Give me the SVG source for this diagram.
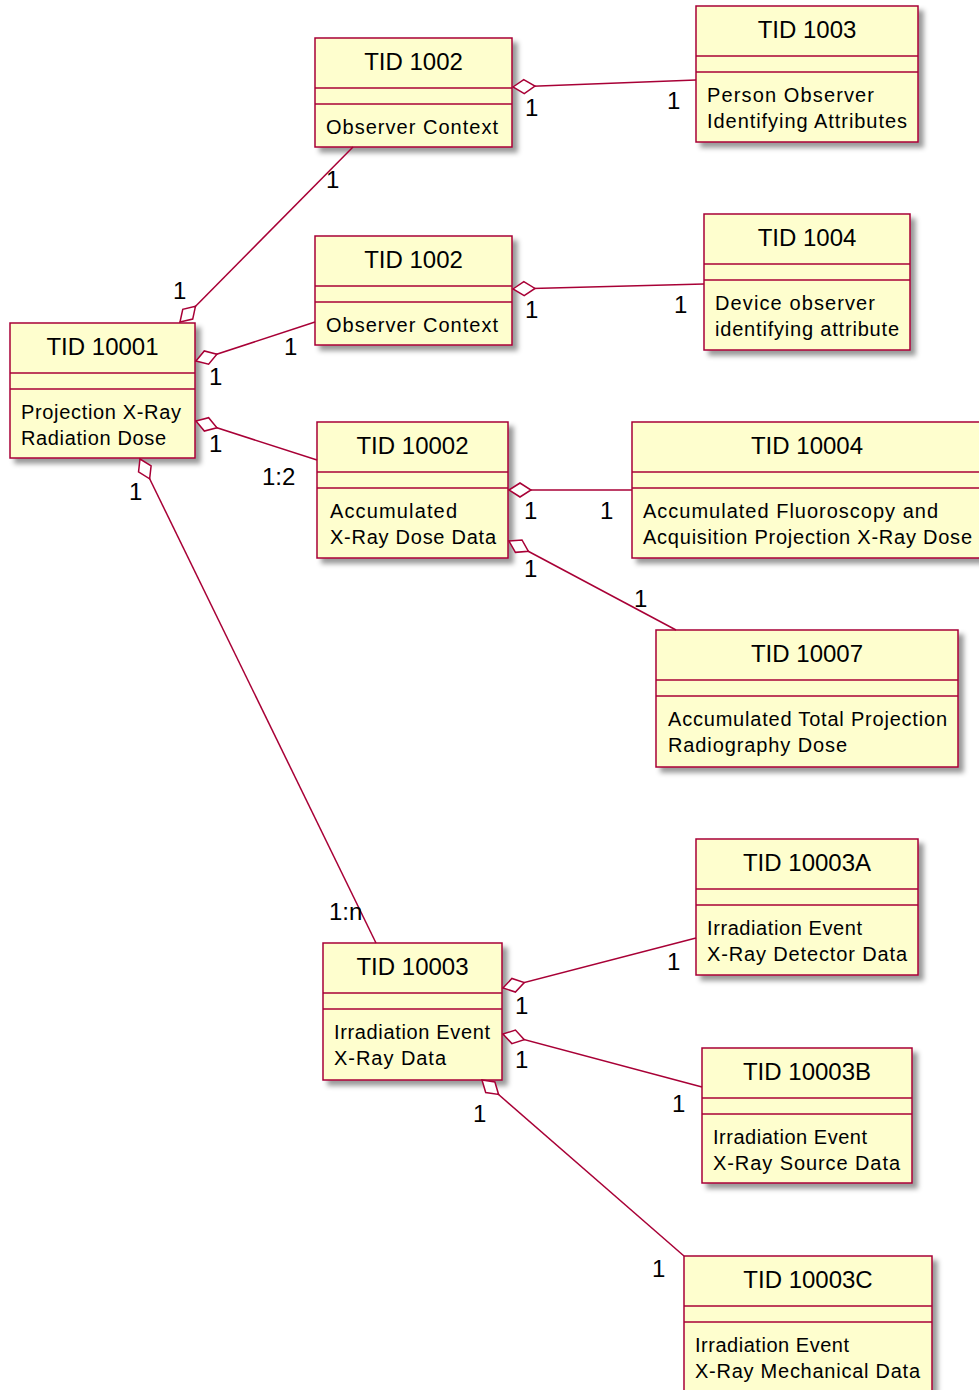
<svg xmlns="http://www.w3.org/2000/svg" width="979" height="1390" viewBox="0 0 979 1390">
<style>
.box{fill:#FEFECE;stroke:#A80036;stroke-width:1.5;filter:url(#sh)}
.div{stroke:#A80036;stroke-width:1.5}
.hd{font-family:"Liberation Sans",Arial,sans-serif;font-size:24px;fill:#000;text-anchor:middle}
.bd{font-family:"Liberation Sans",Arial,sans-serif;font-size:20px;fill:#000}
.lb{font-family:"Liberation Sans",Arial,sans-serif;font-size:24px;fill:#000}
.cn{stroke:#A80036;stroke-width:1.5;fill:none;marker-start:url(#dia)}
</style>
<defs>
<filter id="sh" x="-10%" y="-10%" width="130%" height="130%">
<feGaussianBlur in="SourceAlpha" stdDeviation="2.5" result="b"/>
<feOffset in="b" dx="5" dy="5" result="o"/>
<feFlood flood-color="#000" flood-opacity="0.4"/>
<feComposite in2="o" operator="in" result="s"/>
<feMerge><feMergeNode in="s"/><feMergeNode in="SourceGraphic"/></feMerge>
</filter>
<marker id="dia" markerUnits="userSpaceOnUse" viewBox="0 0 24 16" markerWidth="24" markerHeight="16" refX="0" refY="8" orient="auto" overflow="visible">
<path d="M0,8 L11,1 L22,8 L11,15 Z" fill="#fff" stroke="#A80036" stroke-width="1.5"/>
</marker>
</defs>

<g id="tid10001">
<rect class="box" x="10" y="323" width="185" height="135"/>
<line class="div" x1="10" y1="373" x2="195" y2="373"/>
<line class="div" x1="10" y1="389" x2="195" y2="389"/>
<text class="hd" x="102.5" y="355">TID 10001</text>
<text class="bd" x="21" y="419" textLength="160" lengthAdjust="spacing">Projection X-Ray</text>
<text class="bd" x="21" y="445" textLength="145" lengthAdjust="spacing">Radiation Dose</text>
</g>

<g id="tid1002a">
<rect class="box" x="315" y="38" width="197" height="109"/>
<line class="div" x1="315" y1="88" x2="512" y2="88"/>
<line class="div" x1="315" y1="104" x2="512" y2="104"/>
<text class="hd" x="413.5" y="70">TID 1002</text>
<text class="bd" x="326" y="134" textLength="172" lengthAdjust="spacing">Observer Context</text>
</g>

<g id="tid1002b">
<rect class="box" x="315" y="236" width="197" height="109"/>
<line class="div" x1="315" y1="286" x2="512" y2="286"/>
<line class="div" x1="315" y1="302" x2="512" y2="302"/>
<text class="hd" x="413.5" y="268">TID 1002</text>
<text class="bd" x="326" y="332" textLength="172" lengthAdjust="spacing">Observer Context</text>
</g>

<g id="tid1003">
<rect class="box" x="696" y="6" width="222" height="136"/>
<line class="div" x1="696" y1="56" x2="918" y2="56"/>
<line class="div" x1="696" y1="72" x2="918" y2="72"/>
<text class="hd" x="807" y="38">TID 1003</text>
<text class="bd" x="707" y="102" textLength="167" lengthAdjust="spacing">Person Observer</text>
<text class="bd" x="707" y="128" textLength="200" lengthAdjust="spacing">Identifying Attributes</text>
</g>

<g id="tid1004">
<rect class="box" x="704" y="214" width="206" height="136"/>
<line class="div" x1="704" y1="264" x2="910" y2="264"/>
<line class="div" x1="704" y1="280" x2="910" y2="280"/>
<text class="hd" x="807" y="246">TID 1004</text>
<text class="bd" x="715" y="310" textLength="160" lengthAdjust="spacing">Device observer</text>
<text class="bd" x="715" y="336" textLength="184" lengthAdjust="spacing">identifying attribute</text>
</g>

<g id="tid10002">
<rect class="box" x="317" y="422" width="191" height="136"/>
<line class="div" x1="317" y1="472" x2="508" y2="472"/>
<line class="div" x1="317" y1="488" x2="508" y2="488"/>
<text class="hd" x="412.5" y="454">TID 10002</text>
<text class="bd" x="330" y="518" textLength="127" lengthAdjust="spacing">Accumulated</text>
<text class="bd" x="330" y="544" textLength="166" lengthAdjust="spacing">X-Ray Dose Data</text>
</g>

<g id="tid10004">
<rect class="box" x="632" y="422" width="350" height="136"/>
<line class="div" x1="632" y1="472" x2="982" y2="472"/>
<line class="div" x1="632" y1="488" x2="982" y2="488"/>
<text class="hd" x="807" y="454">TID 10004</text>
<text class="bd" x="643" y="518" textLength="295" lengthAdjust="spacing">Accumulated Fluoroscopy and</text>
<text class="bd" x="643" y="544" textLength="329" lengthAdjust="spacing">Acquisition Projection X-Ray Dose</text>
</g>

<g id="tid10007">
<rect class="box" x="656" y="630" width="302" height="137"/>
<line class="div" x1="656" y1="680" x2="958" y2="680"/>
<line class="div" x1="656" y1="696" x2="958" y2="696"/>
<text class="hd" x="807" y="662">TID 10007</text>
<text class="bd" x="668" y="726" textLength="279" lengthAdjust="spacing">Accumulated Total Projection</text>
<text class="bd" x="668" y="752" textLength="179" lengthAdjust="spacing">Radiography Dose</text>
</g>

<g id="tid10003">
<rect class="box" x="323" y="943" width="179" height="137"/>
<line class="div" x1="323" y1="993" x2="502" y2="993"/>
<line class="div" x1="323" y1="1009" x2="502" y2="1009"/>
<text class="hd" x="412.5" y="975">TID 10003</text>
<text class="bd" x="334" y="1039" textLength="156" lengthAdjust="spacing">Irradiation Event</text>
<text class="bd" x="334" y="1065" textLength="112" lengthAdjust="spacing">X-Ray Data</text>
</g>

<g id="tid10003a">
<rect class="box" x="696" y="839" width="222" height="136"/>
<line class="div" x1="696" y1="889" x2="918" y2="889"/>
<line class="div" x1="696" y1="905" x2="918" y2="905"/>
<text class="hd" x="807" y="871">TID 10003A</text>
<text class="bd" x="707" y="935" textLength="155" lengthAdjust="spacing">Irradiation Event</text>
<text class="bd" x="707" y="961" textLength="200" lengthAdjust="spacing">X-Ray Detector Data</text>
</g>

<g id="tid10003b">
<rect class="box" x="702" y="1048" width="210" height="135"/>
<line class="div" x1="702" y1="1098" x2="912" y2="1098"/>
<line class="div" x1="702" y1="1114" x2="912" y2="1114"/>
<text class="hd" x="807" y="1080">TID 10003B</text>
<text class="bd" x="713" y="1144" textLength="154" lengthAdjust="spacing">Irradiation Event</text>
<text class="bd" x="713" y="1170" textLength="187" lengthAdjust="spacing">X-Ray Source Data</text>
</g>

<g id="tid10003c">
<rect class="box" x="684" y="1256" width="248" height="136"/>
<line class="div" x1="684" y1="1306" x2="932" y2="1306"/>
<line class="div" x1="684" y1="1322" x2="932" y2="1322"/>
<text class="hd" x="808" y="1288">TID 10003C</text>
<text class="bd" x="695" y="1352" textLength="154" lengthAdjust="spacing">Irradiation Event</text>
<text class="bd" x="695" y="1378" textLength="225" lengthAdjust="spacing">X-Ray Mechanical Data</text>
</g>

<g id="connectors">
<path class="cn" d="M180,322 L353,147"/>
<path class="cn" d="M196,361 L315,322"/>
<path class="cn" d="M196,421 L317,460"/>
<path class="cn" d="M140,459 L376,943"/>
<path class="cn" d="M513,87 L696,80"/>
<path class="cn" d="M513,289 L704,284"/>
<path class="cn" d="M509,490 L632,490"/>
<path class="cn" d="M509,541 L676,630"/>
<path class="cn" d="M503,988 L696,938"/>
<path class="cn" d="M503,1034 L702,1087"/>
<path class="cn" d="M482,1080 L684,1256"/>
<text class="lb" x="173" y="299">1</text>
<text class="lb" x="326" y="188">1</text>
<text class="lb" x="209" y="385">1</text>
<text class="lb" x="284" y="355">1</text>
<text class="lb" x="209" y="452">1</text>
<text class="lb" x="262" y="485">1:2</text>
<text class="lb" x="129" y="500">1</text>
<text class="lb" x="329" y="920">1:n</text>
<text class="lb" x="525" y="116">1</text>
<text class="lb" x="667" y="109">1</text>
<text class="lb" x="525" y="318">1</text>
<text class="lb" x="674" y="313">1</text>
<text class="lb" x="524" y="519">1</text>
<text class="lb" x="600" y="519">1</text>
<text class="lb" x="524" y="577">1</text>
<text class="lb" x="634" y="607">1</text>
<text class="lb" x="515" y="1014">1</text>
<text class="lb" x="667" y="970">1</text>
<text class="lb" x="515" y="1068">1</text>
<text class="lb" x="672" y="1112">1</text>
<text class="lb" x="473" y="1122">1</text>
<text class="lb" x="652" y="1277">1</text>
</g>
</svg>
